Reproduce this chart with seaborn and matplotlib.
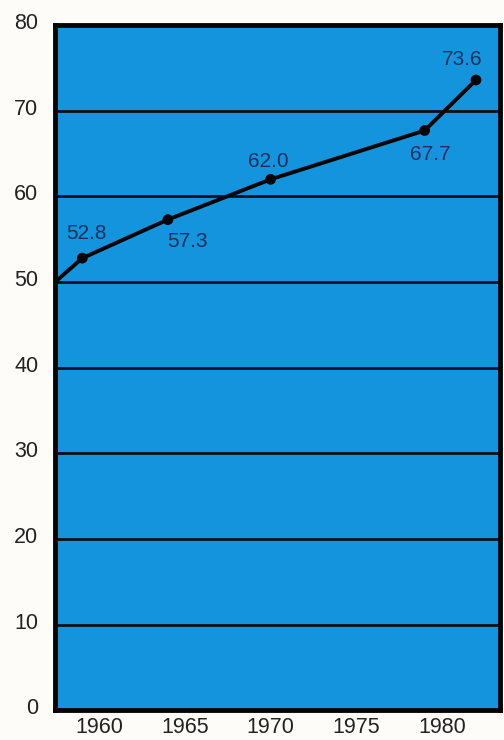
import matplotlib
matplotlib.use("Agg")
import matplotlib.pyplot as plt
import matplotlib.transforms as mtransforms
import seaborn as sns
import pandas as pd

# Series values
years = [1959, 1964, 1970, 1979, 1982]
values = [52.8, 57.3, 62.0, 67.7, 73.6]
value_labels = ["52.8", "57.3", "62.0", "67.7", "73.6"]

# Line enters from the left edge of the panel
start_year = 1957.4
start_value = 50.0

x_ticks = [1960, 1965, 1970, 1975, 1980]
y_ticks = [0, 10, 20, 30, 40, 50, 60, 70, 80]

line_df = pd.DataFrame({"year": [start_year] + years,
                        "value": [start_value] + values})
point_df = pd.DataFrame({"year": years, "value": values})

sns.set_theme(style="white")
plt.rcParams["font.family"] = ["Liberation Sans", "DejaVu Sans"]

fig = plt.figure(figsize=(5.04, 7.40), dpi=100, facecolor="#fdfcf9")
ax = fig.add_axes([0.109, 0.040, 0.883, 0.926])
ax.set_facecolor("#1494dd")

# Horizontal rules
for y in y_ticks[1:-1]:
    ax.axhline(y, color="#0a0f1e", lw=2.0, zorder=1)

sns.lineplot(data=line_df, x="year", y="value", ax=ax, color="#050505",
             lw=2.8, zorder=3, sort=False)
sns.scatterplot(data=point_df, x="year", y="value", ax=ax, color="#050505",
                s=60, edgecolor="none", zorder=4)

# Label offsets in points (dx, dy)
offsets = [(3, 18), (14, -16), (-2, 13), (4, -17), (-10, 15)]
for yr, v, lab, (dx, dy) in zip(years, values, value_labels, offsets):
    ax.annotate(lab, (yr, v), xytext=(dx, dy), textcoords="offset points",
                ha="center", va="center", fontsize=15, color="#16305e",
                zorder=5)

ax.set_xlim(start_year, 1983.4)
ax.set_ylim(0, 80)
ax.set_xticks(x_ticks)
ax.set_yticks(y_ticks)
ax.set_xticklabels([str(t) for t in x_ticks])
ax.set_yticklabels([str(t) for t in y_ticks])
ax.tick_params(axis="both", length=0, labelsize=15.5, colors="#222222")
ax.tick_params(axis="x", pad=5)
ax.tick_params(axis="y", pad=12)
ax.set_xlabel("")
ax.set_ylabel("")
ax.grid(False)

# Value labels sit slightly above their rules
lift = mtransforms.ScaledTranslation(0, 4 / 100, fig.dpi_scale_trans)
for lbl in ax.get_yticklabels():
    lbl.set_transform(lbl.get_transform() + lift)

for spine in ax.spines.values():
    spine.set_visible(True)
    spine.set_color("#050505")
    spine.set_linewidth(3.5)

fig.savefig("out.png", dpi=100, facecolor=fig.get_facecolor())
